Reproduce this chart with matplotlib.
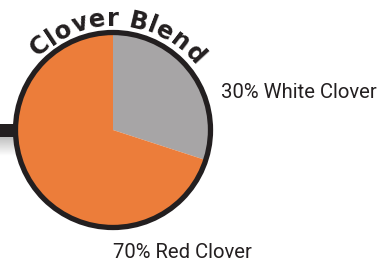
import numpy as np
import matplotlib
matplotlib.use("Agg")
import matplotlib.pyplot as plt
from matplotlib.patches import Circle, Rectangle
from matplotlib.font_manager import FontProperties

# Data
labels = ["White Clover", "Red Clover"]
values = [30, 70]
colors = ["#a7a5a6", "#ec7d3a"]
title = "Clover Blend"

W, H = 380, 264
fig = plt.figure(figsize=(W / 100, H / 100), dpi=100)
ax = fig.add_axes([0, 0, 1, 1])

cx, cy = 113, H - 130
R = 97
dark = "#231f20"

ax.pie(values, colors=colors, startangle=90, counterclock=False,
       center=(cx, cy), radius=R, wedgeprops=dict(linewidth=0),
       frame=True)
ax.set_xlim(0, W)
ax.set_ylim(0, H)
ax.set_aspect("equal")
ax.axis("off")
for p in ax.patches:
    p.set_zorder(2)

# left bar + soft shadow
ax.add_patch(Rectangle((0, H - 137), 40, 13, color=dark, zorder=1, lw=0))
grad = np.linspace(0.75, 1.0, 50).reshape(-1, 1)
ax.imshow(np.repeat(grad, 2, axis=1), cmap="gray", vmin=0, vmax=1,
          extent=(0, 40, H - 156, H - 137), origin="upper", aspect="auto",
          zorder=0.5, interpolation="bilinear")
ax.set_xlim(0, W)
ax.set_ylim(0, H)

ax.add_patch(Circle((cx, cy), R + 0.5, fill=False, ec=dark, lw=3.8, zorder=3))

# labels
fp_lab = dict(family=["Roboto", "DejaVu Sans"], fontsize=14.6, color=dark)
ax.text(221, H - 92, f"{values[0]}% {labels[0]}", ha="left", va="center", **fp_lab)
ax.text(113, H - 253, f"{values[1]}% {labels[1]}", ha="left", va="center", **fp_lab)

# curved title
fp = FontProperties(family=["DejaVu Sans"], weight="heavy", size=17.5)
renderer = fig.canvas.get_renderer()
widths = []
for ch in title:
    w, h, d = renderer.get_text_width_height_descent(ch if ch != " " else "n", fp, ismath=False)
    if ch == " ":
        w *= 0.5
    widths.append(w)
r_base = 104
a_start, a_end = 136, 38
total_arc = np.deg2rad(a_start - a_end) * r_base
track = (total_arc - sum(widths)) / (len(title) - 1)
pos = 0.0
for ch, w in zip(title, widths):
    s = pos + w / 2
    ang = a_start - np.rad2deg(s / r_base)
    t = np.deg2rad(ang)
    x = cx + r_base * np.cos(t)
    y = cy + r_base * np.sin(t)
    if ch != " ":
        ax.text(x, y, ch, fontproperties=fp, color=dark, rotation=ang - 90,
                ha="center", va="baseline", rotation_mode="anchor", zorder=4)
    pos += w + track

fig.savefig("out.png", dpi=100)
